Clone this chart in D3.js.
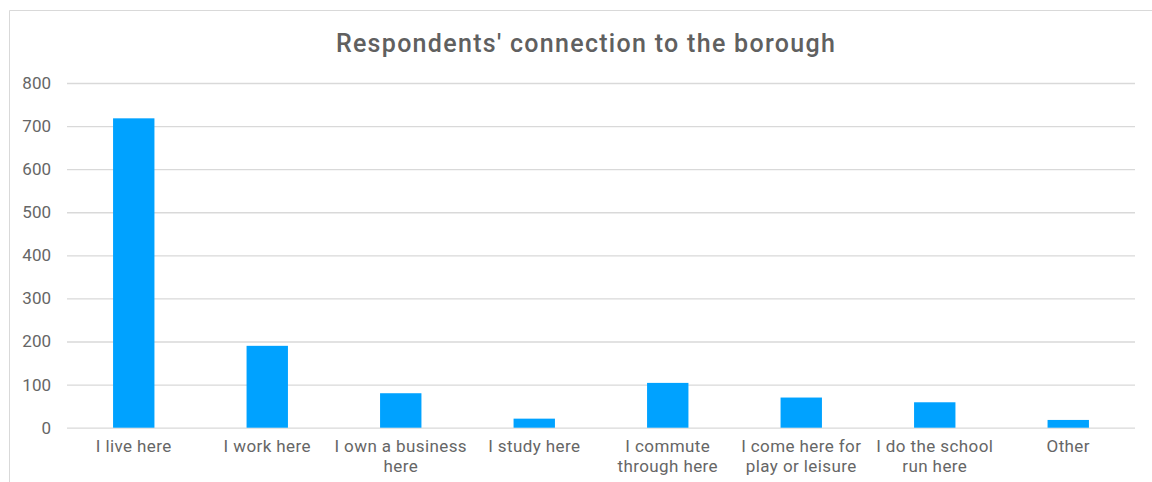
<!DOCTYPE html>
<html>
<head>
<meta charset="utf-8">
<script src="https://cdn.jsdelivr.net/npm/d3@7"></script>
<style>
  html, body { margin: 0; padding: 0; background: #fff; }
  svg { display: block; }
  text { font-family: Roboto, "Noto Sans", sans-serif; }
</style>
</head>
<body>
<svg id="chart" width="1152" height="482"></svg>
<script>
// Survey: how respondents are connected to the borough
const categories = [
  "I live here",
  "I work here",
  "I own a business here",
  "I study here",
  "I commute through here",
  "I come here for play or leisure",
  "I do the school run here",
  "Other"
];
const categoryLines = [
  ["I live here"],
  ["I work here"],
  ["I own a business", "here"],
  ["I study here"],
  ["I commute", "through here"],
  ["I come here for", "play or leisure"],
  ["I do the school", "run here"],
  ["Other"]
];
const counts = [718, 190, 80, 21, 104, 70, 59, 18];
const yTicks = [0, 100, 200, 300, 400, 500, 600, 700, 800];
const title = "Respondents' connection to the borough";

const svg = d3.select("#chart");
const margin = { left: 67, right: 17, top: 83, bottom: 54 };
const W = 1152, H = 482;

// chart frame
svg.append("path")
  .attr("d", `M9.5,${H} V10.5 H${W}`)
  .attr("fill", "none")
  .attr("stroke", "#d9d9d9")
  .attr("stroke-width", 1);

const x = d3.scaleBand()
  .domain(categories)
  .range([margin.left, W - margin.right])
  .paddingInner(0.69)
  .paddingOuter(0.345);

const y = d3.scaleLinear()
  .domain([0, 800])
  .range([427.7, 83]);

// gridlines and value labels
const yAxis = d3.axisLeft(y)
  .tickValues(yTicks)
  .tickSize(-(W - margin.right - margin.left))
  .tickPadding(16);

const gy = svg.append("g")
  .attr("transform", `translate(${margin.left},0)`)
  .call(yAxis);
gy.select(".domain").remove();
gy.selectAll(".tick line").attr("stroke", "#d9d9d9").attr("stroke-width", 1.3);
gy.selectAll(".tick text")
  .attr("fill", "#666666")
  .attr("font-size", 17)
  .style("font-family", "Roboto, sans-serif");

// bars
svg.append("g").selectAll("rect")
  .data(categories)
  .join("rect")
  .attr("x", d => x(d))
  .attr("width", x.bandwidth())
  .attr("y", (d, i) => y(counts[i]))
  .attr("height", (d, i) => y(0) - y(counts[i]))
  .attr("fill", "#00a2ff");

// category labels
const xAxis = d3.axisBottom(x).tickSize(0).tickFormat("");
const gx = svg.append("g")
  .attr("transform", `translate(0,${y(0)})`)
  .call(xAxis);
gx.select(".domain").remove();
gx.selectAll(".tick").each(function(d, i) {
  const t = d3.select(this).append("text")
    .attr("fill", "#666666")
    .attr("font-size", 17)
    .attr("letter-spacing", 0.4)
    .attr("text-anchor", "middle");
  categoryLines[i].forEach((line, k) => {
    t.append("tspan")
      .attr("x", 0)
      .attr("y", 24 + k * 20.5)
      .text(line);
  });
});

// title
svg.append("text")
  .attr("x", 586)
  .attr("y", 52)
  .attr("text-anchor", "middle")
  .attr("fill", "#606060")
  .attr("font-size", 25)
  .attr("font-weight", 500)
  .attr("letter-spacing", 1.3)
  .text(title);
</script>
</body>
</html>
